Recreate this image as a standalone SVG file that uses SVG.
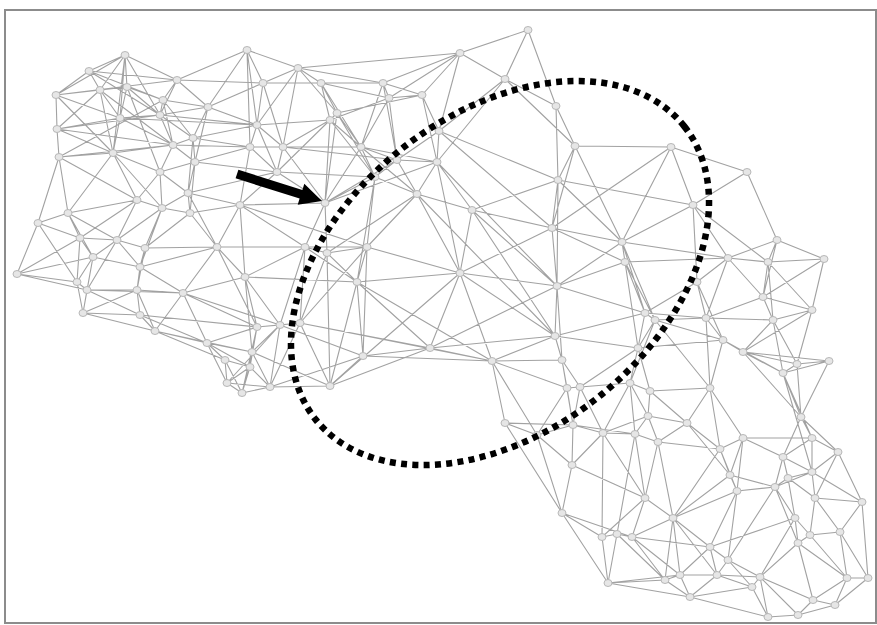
<svg xmlns="http://www.w3.org/2000/svg" width="877" height="625" viewBox="0 0 877 625">
<style>
.edges path{fill:none;stroke:#a2a2a2;stroke-width:1.1;stroke-linecap:round}
.node ellipse{fill:#e6e6e6;stroke:#b8b8b8;stroke-width:1}
.frame{fill:#fff;stroke:#8c8c8c;stroke-width:2}
.ring{fill:none;stroke:#000;stroke-width:6.5;stroke-dasharray:6 5.3}
</style>
<rect class="frame" x="5" y="10" width="871" height="613"/>
<g id="connectors" class="edges">
<path d="M125 55L89 71M125 55L100 90M125 55L127 87M125 55L177 80M125 55L120 118M125 55L113 153M125 55L160 115M125 55L56 95M89 71L56 95M89 71L100 90M89 71L177 80M89 71L160 115M89 71L163 100M56 95L57 129M56 95L177 80M56 95L120 118M56 95L127 87M56 95L113 153M100 90L57 129M100 90L120 118M100 90L113 153M100 90L173 145M127 87L120 118M127 87L160 115M127 87L163 100M127 87L160 172M177 80L163 100M177 80L160 115M177 80L247 50M177 80L208 107M177 80L263 83M163 100L173 145M163 100L193 138M163 100L208 107M163 100L160 115M163 100L59 157M120 118L57 129M120 118L160 115M120 118L113 153M120 118L173 145M120 118L257 125M160 115L173 145M160 115L193 138M160 115L257 125M160 115L208 107M57 129L59 157M57 129L113 153M57 129L160 115M57 129L173 145M59 157L113 153M59 157L38 223M59 157L137 200M59 157L173 145M59 157L68 213M113 153L137 200M113 153L160 172M113 153L173 145M113 153L68 213M113 153L162 208M173 145L193 138M173 145L195 162M173 145L160 172M173 145L250 147M193 138L195 162M193 138L250 147M193 138L257 125M193 138L188 193M193 138L208 107M208 107L247 50M208 107L263 83M208 107L257 125M208 107L195 162M247 50L263 83M247 50L298 68M247 50L257 125M247 50L250 147M263 83L298 68M263 83L257 125M263 83L283 147M263 83L321 83M298 68L321 83M298 68L257 125M298 68L337 113M298 68L383 83M298 68L283 147M257 125L250 147M257 125L283 147M257 125L330 120M257 125L277 172M250 147L283 147M250 147L277 172M250 147L240 205M250 147L195 162M283 147L277 172M283 147L330 120M283 147L325 203M283 147L361 147M195 162L160 172M195 162L188 193M195 162L190 213M195 162L277 172M160 172L188 193M160 172L137 200M160 172L162 208M277 172L240 205M277 172L325 203M277 172L188 193M277 172L330 120M188 193L190 213M188 193L162 208M188 193L240 205M188 193L217 247M137 200L162 208M137 200L68 213M137 200L117 240M137 200L80 238M68 213L38 223M68 213L80 238M68 213L93 257M68 213L117 240M162 208L190 213M162 208L145 248M162 208L140 267M162 208L117 240M190 213L240 205M190 213L217 247M190 213L145 248M240 205L217 247M240 205L325 203M240 205L245 277M240 205L305 247M38 223L17 274M38 223L80 238M38 223L77 282M80 238L117 240M80 238L93 257M80 238L77 282M80 238L17 274M117 240L145 248M117 240L93 257M117 240L87 290M117 240L140 267M145 248L140 267M145 248L217 247M145 248L137 290M93 257L77 282M93 257L87 290M93 257L140 267M93 257L83 313M140 267L137 290M140 267L183 293M140 267L217 247M217 247L245 277M217 247L183 293M217 247L305 247M217 247L257 327M17 274L77 282M17 274L87 290M17 274L93 257M77 282L87 290M77 282L83 313M87 290L137 290M87 290L83 313M87 290L183 293M87 290L140 315M137 290L183 293M137 290L140 315M137 290L155 331M137 290L83 313M183 293L245 277M183 293L207 343M183 293L257 327M183 293L155 331M183 293L280 325M245 277L305 247M245 277L280 325M245 277L257 327M245 277L252 352M83 313L140 315M83 313L155 331M140 315L155 331M140 315L207 343M140 315L257 327M155 331L207 343M155 331L225 360M155 331L252 352M207 343L225 360M207 343L252 352M207 343L250 367M207 343L257 327M207 343L227 383M257 327L280 325M257 327L252 352M257 327L250 367M257 327L242 393M257 327L300 323M280 325L300 323M280 325L252 352M280 325L270 387M280 325L227 383M300 323L305 247M300 323L327 253M300 323L330 386M300 323L270 387M300 323L367 247M225 360L227 383M225 360L250 367M225 360L242 393M252 352L250 367M252 352L242 393M252 352L270 387M250 367L227 383M250 367L242 393M250 367L270 387M227 383L242 393M227 383L270 387M242 393L270 387M270 387L330 386M270 387L363 356M330 386L363 356M330 386L327 253M330 386L430 348M325 203L305 247M325 203L327 253M325 203L375 177M325 203L397 160M325 203L361 147M305 247L327 253M305 247L367 247M305 247L357 282M305 247L280 325M327 253L367 247M327 253L357 282M327 253L417 194M252 352L330 386M280 325L363 356M245 277L357 282M240 205L367 247M277 172L375 177M283 147L397 160"/>
<path d="M321 83L383 83M321 83L337 113M321 83L330 120M321 83L361 147M321 83L389 98M383 83L460 53M383 83L389 98M383 83L422 95M383 83L397 160M383 83L361 147M422 95L460 53M422 95L389 98M422 95L439 131M422 95L437 162M422 95L337 113M389 98L397 160M389 98L361 147M389 98L330 120M337 113L330 120M337 113L361 147M337 113L375 177M337 113L325 203M330 120L361 147M330 120L325 203M330 120L375 177M361 147L375 177M361 147L397 160M361 147L437 162M361 147L417 194M439 131L460 53M439 131L437 162M439 131L505 79M439 131L397 160M439 131L558 180M439 131L552 228M437 162L417 194M437 162L472 210M437 162L397 160M437 162L460 273M437 162L325 203M397 160L375 177M397 160L417 194M375 177L417 194M375 177L367 247M375 177L357 282M417 194L472 210M417 194L460 273M417 194L367 247M460 53L528 30M460 53L505 79M460 53L298 68M460 53L389 98M528 30L505 79M528 30L556 106M505 79L556 106M505 79L575 146M505 79L437 162M556 106L575 146M556 106L558 180M575 146L558 180M575 146L671 147M575 146L622 242M575 146L552 228M558 180L552 228M558 180L472 210M558 180L622 242M558 180L557 286M558 180L693 205M472 210L552 228M472 210L460 273M472 210L557 286M472 210L555 336M552 228L557 286M552 228L622 242M552 228L460 273M552 228L625 262M552 228L671 147M367 247L357 282M367 247L460 273M367 247L363 356M460 273L357 282M460 273L557 286M460 273L430 348M460 273L492 361M460 273L555 336M357 282L430 348M357 282L363 356M357 282L330 386M357 282L492 361M557 286L555 336M557 286L622 242M557 286L625 262M557 286L562 360M557 286L645 313M430 348L363 356M430 348L492 361M430 348L555 336M430 348L557 286M555 336L492 361M555 336L562 360M555 336L645 313M555 336L638 348M492 361L562 360M492 361L567 388M492 361L505 423M492 361L537 435M562 360L567 388M562 360L580 387M562 360L573 425M567 388L580 387M567 388L573 425M567 388L537 435M580 387L630 383M580 387L573 425M580 387L638 348M671 147L747 172M671 147L693 205M671 147L622 242M747 172L693 205M747 172L777 240M693 205L622 242M693 205L728 258M693 205L768 262M693 205L697 282M300 323L492 361M300 323L430 348M330 386L460 273M437 162L557 286M417 194L555 336M363 356L492 361"/>
<path d="M622 242L625 262M622 242L728 258M622 242L645 313M622 242L655 320M777 240L728 258M777 240L768 262M777 240L824 259M777 240L763 297M625 262L728 258M625 262L645 313M625 262L655 320M625 262L638 348M728 258L768 262M728 258L697 282M728 258L706 318M728 258L763 297M768 262L824 259M768 262L763 297M768 262L773 320M768 262L812 310M824 259L812 310M824 259L763 297M697 282L645 313M697 282L706 318M697 282L723 340M763 297L812 310M763 297L773 320M763 297L706 318M812 310L773 320M812 310L797 364M812 310L743 352M645 313L655 320M645 313L706 318M645 313L638 348M655 320L706 318M655 320L723 340M655 320L638 348M655 320L630 383M655 320L710 388M706 318L723 340M706 318L773 320M706 318L710 388M773 320L743 352M773 320L797 364M773 320L783 373M723 340L743 352M723 340L710 388M723 340L783 373M743 352L797 364M743 352L829 361M743 352L783 373M743 352L801 417M638 348L630 383M638 348L650 391M638 348L723 340M797 364L829 361M797 364L783 373M797 364L801 417M829 361L783 373M829 361L801 417M783 373L801 417M783 373L812 438M783 373L812 472M630 383L650 391M630 383L603 433M630 383L648 416M650 391L710 388M650 391L648 416M650 391L687 423M710 388L687 423M710 388L743 438M710 388L720 449M801 417L812 438M801 417L838 452M801 417L783 457M743 438L783 457M743 438L720 449M743 438L730 475M743 438L812 438M812 438L838 452M812 438L783 457M812 438L812 472M838 452L812 472M838 452L815 498M838 452L862 502M783 457L788 478M783 457L812 472"/>
<path d="M505 423L537 435M505 423L562 513M505 423L573 425M573 425L537 435M573 425L572 465M573 425L603 433M537 435L572 465M537 435L562 513M572 465L562 513M572 465L603 433M572 465L645 498M562 513L602 537M562 513L608 583M648 416L687 423M648 416L635 434M648 416L658 442M648 416L603 433M687 423L658 442M687 423L720 449M687 423L730 475M603 433L635 434M603 433L645 498M603 433L602 537M635 434L658 442M635 434L645 498M635 434L617 534M658 442L645 498M658 442L673 518M658 442L720 449M720 449L730 475M720 449L737 491M720 449L673 518M812 472L788 478M812 472L815 498M812 472L775 487M788 478L775 487M788 478L815 498M788 478L795 518M730 475L737 491M730 475L775 487M730 475L673 518M737 491L775 487M737 491L673 518M737 491L710 547M737 491L728 560M775 487L795 518M775 487L798 543M775 487L728 560M815 498L862 502M815 498L810 535M815 498L840 532M862 502L840 532M862 502L868 578M645 498L673 518M645 498L632 537M645 498L602 537M673 518L710 547M673 518L632 537M673 518L665 580M673 518L680 575M673 518L717 575M795 518L798 543M795 518L810 535M795 518L710 547M602 537L617 534M602 537L608 583M617 534L632 537M617 534L608 583M617 534L665 580M632 537L665 580M632 537L680 575M632 537L710 547M810 535L840 532M810 535L798 543M810 535L847 578M840 532L847 578M840 532L868 578M710 547L728 560M710 547L717 575M710 547L680 575M728 560L717 575M728 560L760 577M728 560L752 587M798 543L760 577M798 543L813 600M798 543L847 578M608 583L665 580M608 583L690 597M608 583L680 575M665 580L680 575M665 580L690 597M680 575L717 575M680 575L690 597M717 575L690 597M717 575L752 587M717 575L760 577M760 577L752 587M760 577L768 617M760 577L798 615M760 577L813 600M847 578L868 578M847 578L835 605M847 578L813 600M868 578L835 605M690 597L768 617M690 597L752 587M752 587L768 617M768 617L798 615M798 615L813 600M798 615L835 605M813 600L835 605M562 513L632 537M573 425L635 434M580 387L603 433M630 383L635 434M795 518L760 577M812 472L862 502M783 457L775 487M743 438L737 491"/>
</g>
<g id="nodes">
<g id="a1" class="node"><ellipse cx="125" cy="55" rx="4" ry="3.5"/></g>
<g id="a2" class="node"><ellipse cx="89" cy="71" rx="4" ry="3.5"/></g>
<g id="a3" class="node"><ellipse cx="56" cy="95" rx="4" ry="3.5"/></g>
<g id="a4" class="node"><ellipse cx="100" cy="90" rx="4" ry="3.5"/></g>
<g id="a5" class="node"><ellipse cx="127" cy="87" rx="4" ry="3.5"/></g>
<g id="a6" class="node"><ellipse cx="177" cy="80" rx="4" ry="3.5"/></g>
<g id="a7" class="node"><ellipse cx="163" cy="100" rx="4" ry="3.5"/></g>
<g id="a8" class="node"><ellipse cx="120" cy="118" rx="4" ry="3.5"/></g>
<g id="a9" class="node"><ellipse cx="160" cy="115" rx="4" ry="3.5"/></g>
<g id="a10" class="node"><ellipse cx="57" cy="129" rx="4" ry="3.5"/></g>
<g id="a11" class="node"><ellipse cx="59" cy="157" rx="4" ry="3.5"/></g>
<g id="a12" class="node"><ellipse cx="113" cy="153" rx="4" ry="3.5"/></g>
<g id="a13" class="node"><ellipse cx="173" cy="145" rx="4" ry="3.5"/></g>
<g id="a14" class="node"><ellipse cx="193" cy="138" rx="4" ry="3.5"/></g>
<g id="a15" class="node"><ellipse cx="208" cy="107" rx="4" ry="3.5"/></g>
<g id="a16" class="node"><ellipse cx="247" cy="50" rx="4" ry="3.5"/></g>
<g id="a17" class="node"><ellipse cx="263" cy="83" rx="4" ry="3.5"/></g>
<g id="a18" class="node"><ellipse cx="298" cy="68" rx="4" ry="3.5"/></g>
<g id="a19" class="node"><ellipse cx="257" cy="125" rx="4" ry="3.5"/></g>
<g id="a20" class="node"><ellipse cx="250" cy="147" rx="4" ry="3.5"/></g>
<g id="a21" class="node"><ellipse cx="283" cy="147" rx="4" ry="3.5"/></g>
<g id="a22" class="node"><ellipse cx="195" cy="162" rx="4" ry="3.5"/></g>
<g id="a23" class="node"><ellipse cx="160" cy="172" rx="4" ry="3.5"/></g>
<g id="a24" class="node"><ellipse cx="277" cy="172" rx="4" ry="3.5"/></g>
<g id="a25" class="node"><ellipse cx="188" cy="193" rx="4" ry="3.5"/></g>
<g id="a26" class="node"><ellipse cx="137" cy="200" rx="4" ry="3.5"/></g>
<g id="a27" class="node"><ellipse cx="68" cy="213" rx="4" ry="3.5"/></g>
<g id="a28" class="node"><ellipse cx="162" cy="208" rx="4" ry="3.5"/></g>
<g id="a29" class="node"><ellipse cx="190" cy="213" rx="4" ry="3.5"/></g>
<g id="a30" class="node"><ellipse cx="240" cy="205" rx="4" ry="3.5"/></g>
<g id="a31" class="node"><ellipse cx="38" cy="223" rx="4" ry="3.5"/></g>
<g id="a32" class="node"><ellipse cx="80" cy="238" rx="4" ry="3.5"/></g>
<g id="a33" class="node"><ellipse cx="117" cy="240" rx="4" ry="3.5"/></g>
<g id="a34" class="node"><ellipse cx="145" cy="248" rx="4" ry="3.5"/></g>
<g id="a35" class="node"><ellipse cx="93" cy="257" rx="4" ry="3.5"/></g>
<g id="a36" class="node"><ellipse cx="140" cy="267" rx="4" ry="3.5"/></g>
<g id="a37" class="node"><ellipse cx="217" cy="247" rx="4" ry="3.5"/></g>
<g id="a38" class="node"><ellipse cx="17" cy="274" rx="4" ry="3.5"/></g>
<g id="a39" class="node"><ellipse cx="77" cy="282" rx="4" ry="3.5"/></g>
<g id="a40" class="node"><ellipse cx="87" cy="290" rx="4" ry="3.5"/></g>
<g id="a41" class="node"><ellipse cx="137" cy="290" rx="4" ry="3.5"/></g>
<g id="a42" class="node"><ellipse cx="183" cy="293" rx="4" ry="3.5"/></g>
<g id="a43" class="node"><ellipse cx="245" cy="277" rx="4" ry="3.5"/></g>
<g id="a44" class="node"><ellipse cx="83" cy="313" rx="4" ry="3.5"/></g>
<g id="a45" class="node"><ellipse cx="140" cy="315" rx="4" ry="3.5"/></g>
<g id="a46" class="node"><ellipse cx="155" cy="331" rx="4" ry="3.5"/></g>
<g id="a47" class="node"><ellipse cx="207" cy="343" rx="4" ry="3.5"/></g>
<g id="a48" class="node"><ellipse cx="257" cy="327" rx="4" ry="3.5"/></g>
<g id="a49" class="node"><ellipse cx="280" cy="325" rx="4" ry="3.5"/></g>
<g id="a50" class="node"><ellipse cx="300" cy="323" rx="4" ry="3.5"/></g>
<g id="a51" class="node"><ellipse cx="225" cy="360" rx="4" ry="3.5"/></g>
<g id="a52" class="node"><ellipse cx="252" cy="352" rx="4" ry="3.5"/></g>
<g id="a53" class="node"><ellipse cx="250" cy="367" rx="4" ry="3.5"/></g>
<g id="a54" class="node"><ellipse cx="227" cy="383" rx="4" ry="3.5"/></g>
<g id="a55" class="node"><ellipse cx="242" cy="393" rx="4" ry="3.5"/></g>
<g id="a56" class="node"><ellipse cx="270" cy="387" rx="4" ry="3.5"/></g>
<g id="a57" class="node"><ellipse cx="330" cy="386" rx="4" ry="3.5"/></g>
<g id="a58" class="node"><ellipse cx="325" cy="203" rx="4" ry="3.5"/></g>
<g id="a59" class="node"><ellipse cx="305" cy="247" rx="4" ry="3.5"/></g>
<g id="a60" class="node"><ellipse cx="327" cy="253" rx="4" ry="3.5"/></g>
<g id="b1" class="node"><ellipse cx="321" cy="83" rx="4" ry="3.5"/></g>
<g id="b2" class="node"><ellipse cx="383" cy="83" rx="4" ry="3.5"/></g>
<g id="b3" class="node"><ellipse cx="422" cy="95" rx="4" ry="3.5"/></g>
<g id="b4" class="node"><ellipse cx="389" cy="98" rx="4" ry="3.5"/></g>
<g id="b5" class="node"><ellipse cx="337" cy="113" rx="4" ry="3.5"/></g>
<g id="b6" class="node"><ellipse cx="330" cy="120" rx="4" ry="3.5"/></g>
<g id="b7" class="node"><ellipse cx="361" cy="147" rx="4" ry="3.5"/></g>
<g id="b8" class="node"><ellipse cx="439" cy="131" rx="4" ry="3.5"/></g>
<g id="b9" class="node"><ellipse cx="437" cy="162" rx="4" ry="3.5"/></g>
<g id="b10" class="node"><ellipse cx="397" cy="160" rx="4" ry="3.5"/></g>
<g id="b11" class="node"><ellipse cx="375" cy="177" rx="4" ry="3.5"/></g>
<g id="b12" class="node"><ellipse cx="417" cy="194" rx="4" ry="3.5"/></g>
<g id="b13" class="node"><ellipse cx="460" cy="53" rx="4" ry="3.5"/></g>
<g id="b14" class="node"><ellipse cx="528" cy="30" rx="4" ry="3.5"/></g>
<g id="b15" class="node"><ellipse cx="505" cy="79" rx="4" ry="3.5"/></g>
<g id="b16" class="node"><ellipse cx="556" cy="106" rx="4" ry="3.5"/></g>
<g id="b17" class="node"><ellipse cx="575" cy="146" rx="4" ry="3.5"/></g>
<g id="b18" class="node"><ellipse cx="558" cy="180" rx="4" ry="3.5"/></g>
<g id="b19" class="node"><ellipse cx="472" cy="210" rx="4" ry="3.5"/></g>
<g id="b20" class="node"><ellipse cx="552" cy="228" rx="4" ry="3.5"/></g>
<g id="b21" class="node"><ellipse cx="367" cy="247" rx="4" ry="3.5"/></g>
<g id="b22" class="node"><ellipse cx="460" cy="273" rx="4" ry="3.5"/></g>
<g id="b23" class="node"><ellipse cx="357" cy="282" rx="4" ry="3.5"/></g>
<g id="b24" class="node"><ellipse cx="557" cy="286" rx="4" ry="3.5"/></g>
<g id="b25" class="node"><ellipse cx="430" cy="348" rx="4" ry="3.5"/></g>
<g id="b26" class="node"><ellipse cx="363" cy="356" rx="4" ry="3.5"/></g>
<g id="b27" class="node"><ellipse cx="555" cy="336" rx="4" ry="3.5"/></g>
<g id="b28" class="node"><ellipse cx="492" cy="361" rx="4" ry="3.5"/></g>
<g id="b29" class="node"><ellipse cx="562" cy="360" rx="4" ry="3.5"/></g>
<g id="b30" class="node"><ellipse cx="567" cy="388" rx="4" ry="3.5"/></g>
<g id="b31" class="node"><ellipse cx="580" cy="387" rx="4" ry="3.5"/></g>
<g id="b32" class="node"><ellipse cx="671" cy="147" rx="4" ry="3.5"/></g>
<g id="b33" class="node"><ellipse cx="747" cy="172" rx="4" ry="3.5"/></g>
<g id="b34" class="node"><ellipse cx="693" cy="205" rx="4" ry="3.5"/></g>
<g id="c1" class="node"><ellipse cx="622" cy="242" rx="4" ry="3.5"/></g>
<g id="c2" class="node"><ellipse cx="777" cy="240" rx="4" ry="3.5"/></g>
<g id="c3" class="node"><ellipse cx="625" cy="262" rx="4" ry="3.5"/></g>
<g id="c4" class="node"><ellipse cx="728" cy="258" rx="4" ry="3.5"/></g>
<g id="c5" class="node"><ellipse cx="768" cy="262" rx="4" ry="3.5"/></g>
<g id="c6" class="node"><ellipse cx="824" cy="259" rx="4" ry="3.5"/></g>
<g id="c7" class="node"><ellipse cx="697" cy="282" rx="4" ry="3.5"/></g>
<g id="c8" class="node"><ellipse cx="763" cy="297" rx="4" ry="3.5"/></g>
<g id="c9" class="node"><ellipse cx="812" cy="310" rx="4" ry="3.5"/></g>
<g id="c10" class="node"><ellipse cx="645" cy="313" rx="4" ry="3.5"/></g>
<g id="c11" class="node"><ellipse cx="655" cy="320" rx="4" ry="3.5"/></g>
<g id="c12" class="node"><ellipse cx="706" cy="318" rx="4" ry="3.5"/></g>
<g id="c13" class="node"><ellipse cx="773" cy="320" rx="4" ry="3.5"/></g>
<g id="c14" class="node"><ellipse cx="723" cy="340" rx="4" ry="3.5"/></g>
<g id="c15" class="node"><ellipse cx="743" cy="352" rx="4" ry="3.5"/></g>
<g id="c16" class="node"><ellipse cx="638" cy="348" rx="4" ry="3.5"/></g>
<g id="c17" class="node"><ellipse cx="797" cy="364" rx="4" ry="3.5"/></g>
<g id="c18" class="node"><ellipse cx="829" cy="361" rx="4" ry="3.5"/></g>
<g id="c19" class="node"><ellipse cx="783" cy="373" rx="4" ry="3.5"/></g>
<g id="c20" class="node"><ellipse cx="630" cy="383" rx="4" ry="3.5"/></g>
<g id="c21" class="node"><ellipse cx="650" cy="391" rx="4" ry="3.5"/></g>
<g id="c22" class="node"><ellipse cx="710" cy="388" rx="4" ry="3.5"/></g>
<g id="c23" class="node"><ellipse cx="801" cy="417" rx="4" ry="3.5"/></g>
<g id="c24" class="node"><ellipse cx="743" cy="438" rx="4" ry="3.5"/></g>
<g id="c25" class="node"><ellipse cx="812" cy="438" rx="4" ry="3.5"/></g>
<g id="c26" class="node"><ellipse cx="838" cy="452" rx="4" ry="3.5"/></g>
<g id="c27" class="node"><ellipse cx="783" cy="457" rx="4" ry="3.5"/></g>
<g id="d1" class="node"><ellipse cx="505" cy="423" rx="4" ry="3.5"/></g>
<g id="d2" class="node"><ellipse cx="573" cy="425" rx="4" ry="3.5"/></g>
<g id="d3" class="node"><ellipse cx="537" cy="435" rx="4" ry="3.5"/></g>
<g id="d4" class="node"><ellipse cx="572" cy="465" rx="4" ry="3.5"/></g>
<g id="d5" class="node"><ellipse cx="562" cy="513" rx="4" ry="3.5"/></g>
<g id="d6" class="node"><ellipse cx="648" cy="416" rx="4" ry="3.5"/></g>
<g id="d7" class="node"><ellipse cx="687" cy="423" rx="4" ry="3.5"/></g>
<g id="d8" class="node"><ellipse cx="603" cy="433" rx="4" ry="3.5"/></g>
<g id="d9" class="node"><ellipse cx="635" cy="434" rx="4" ry="3.5"/></g>
<g id="d10" class="node"><ellipse cx="658" cy="442" rx="4" ry="3.5"/></g>
<g id="d11" class="node"><ellipse cx="720" cy="449" rx="4" ry="3.5"/></g>
<g id="d12" class="node"><ellipse cx="812" cy="472" rx="4" ry="3.5"/></g>
<g id="d13" class="node"><ellipse cx="788" cy="478" rx="4" ry="3.5"/></g>
<g id="d14" class="node"><ellipse cx="730" cy="475" rx="4" ry="3.5"/></g>
<g id="d15" class="node"><ellipse cx="737" cy="491" rx="4" ry="3.5"/></g>
<g id="d16" class="node"><ellipse cx="775" cy="487" rx="4" ry="3.5"/></g>
<g id="d17" class="node"><ellipse cx="815" cy="498" rx="4" ry="3.5"/></g>
<g id="d18" class="node"><ellipse cx="862" cy="502" rx="4" ry="3.5"/></g>
<g id="d19" class="node"><ellipse cx="645" cy="498" rx="4" ry="3.5"/></g>
<g id="d20" class="node"><ellipse cx="673" cy="518" rx="4" ry="3.5"/></g>
<g id="d21" class="node"><ellipse cx="795" cy="518" rx="4" ry="3.5"/></g>
<g id="d22" class="node"><ellipse cx="602" cy="537" rx="4" ry="3.5"/></g>
<g id="d23" class="node"><ellipse cx="617" cy="534" rx="4" ry="3.5"/></g>
<g id="d24" class="node"><ellipse cx="632" cy="537" rx="4" ry="3.5"/></g>
<g id="d25" class="node"><ellipse cx="810" cy="535" rx="4" ry="3.5"/></g>
<g id="d26" class="node"><ellipse cx="840" cy="532" rx="4" ry="3.5"/></g>
<g id="d27" class="node"><ellipse cx="710" cy="547" rx="4" ry="3.5"/></g>
<g id="d28" class="node"><ellipse cx="728" cy="560" rx="4" ry="3.5"/></g>
<g id="d29" class="node"><ellipse cx="798" cy="543" rx="4" ry="3.5"/></g>
<g id="d30" class="node"><ellipse cx="608" cy="583" rx="4" ry="3.5"/></g>
<g id="d31" class="node"><ellipse cx="665" cy="580" rx="4" ry="3.5"/></g>
<g id="d32" class="node"><ellipse cx="680" cy="575" rx="4" ry="3.5"/></g>
<g id="d33" class="node"><ellipse cx="717" cy="575" rx="4" ry="3.5"/></g>
<g id="d34" class="node"><ellipse cx="760" cy="577" rx="4" ry="3.5"/></g>
<g id="d35" class="node"><ellipse cx="847" cy="578" rx="4" ry="3.5"/></g>
<g id="d36" class="node"><ellipse cx="868" cy="578" rx="4" ry="3.5"/></g>
<g id="d37" class="node"><ellipse cx="690" cy="597" rx="4" ry="3.5"/></g>
<g id="d38" class="node"><ellipse cx="752" cy="587" rx="4" ry="3.5"/></g>
<g id="d39" class="node"><ellipse cx="768" cy="617" rx="4" ry="3.5"/></g>
<g id="d40" class="node"><ellipse cx="798" cy="615" rx="4" ry="3.5"/></g>
<g id="d41" class="node"><ellipse cx="813" cy="600" rx="4" ry="3.5"/></g>
<g id="d42" class="node"><ellipse cx="835" cy="605" rx="4" ry="3.5"/></g>
</g>
<g id="highlight-ring">
<ellipse class="ring" cx="500" cy="273" rx="235.5" ry="158.4" transform="rotate(-38.5 500 273)"/>
</g>
<g id="pointer-arrow">
<polygon points="238.4,169.7 302.4,190 304.3,183.8 322,201 297.7,204.8 299.6,198.6 235.6,178.3" fill="#000"/>
</g>
</svg>
